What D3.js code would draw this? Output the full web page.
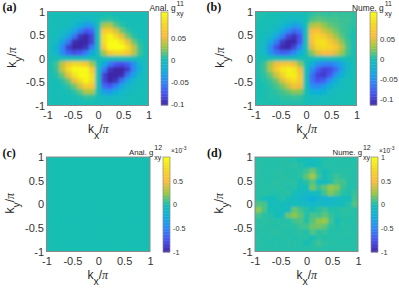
<!DOCTYPE html>
<html>
<head>
<meta charset="utf-8">
<script src="https://cdn.jsdelivr.net/npm/d3@7"></script>
<style>
  html, body { margin: 0; padding: 0; background: #fff; }
  svg { display: block; }
  text { font-family: "Liberation Sans", Arial, sans-serif; fill: #262626; }
</style>
</head>
<body>
<svg id="chart" width="399" height="288"></svg>
<script>
const kTicks = [-1, -0.5, 0, 0.5, 1];
const kTickLabels = ["-1", "-0.5", "0", "0.5", "1"];
const gridK = d3.range(17);

const ticksA = [0.05, 0, -0.05, -0.1];
const ticksB = [0.05, 0, -0.05, -0.1];
const ticksC = [1, 0.5, 0, -0.5, -1];
const ticksD = [1, 0.5, 0, -0.5, -1];
const tickLabelsA = ["0.05", "0", "-0.05", "-0.1"];
const tickLabelsC = ["", "0.5", "0", "-0.5", "-1"];
const tickLabelsD = ["1", "0.5", "0", "-0.5", "-1"];

// rows run from ky=1 down to ky=-1, columns from kx=-1 to kx=1 (units of 0.01)
const gridA = [
  [0,0,0,0,-.1,-.2,-.3,-.2,0,.1,.2,.1,0,0,0,0,0],
  [0,0,-.1,-.2,-.5,-.8,-1,-.8,0,.6,.8,.4,.1,0,0,0,0],
  [0,-.1,-.2,-.6,-1.2,-2.4,-4,-3.5,0,3.2,3.5,1.6,.6,.1,0,0,0],
  [0,-.2,-.5,-1.2,-3,-5.5,-7.5,-6.5,0,6.5,7,4.5,2,.7,.2,0,0],
  [-.1,-.4,-1.2,-3,-6,-9.5,-11,-8.5,0,8.5,10.5,8.5,5,2,.6,.1,0],
  [-.2,-.8,-3.2,-6,-10,-12,-12,-8.5,0,8.5,12.5,12,9,5,2,.5,.1],
  [-.3,-1.6,-5,-9,-11.5,-12,-9.5,-5.5,0,6.5,11.5,12.5,11.5,8.5,4,.9,.2],
  [-.3,-1.4,-4.5,-7,-8,-7.5,-5.5,-2.5,0,3,6.5,8,8,6.5,3.8,1,.2],
  [0,0,0,0,0,0,0,0,0,0,0,0,0,0,0,0,0],
  [.2,1,3.8,6.5,8,8,6.5,3,0,-2.5,-5.5,-7.5,-8,-7,-4.5,-1.4,-.3],
  [.2,.9,4,8.5,11.5,12.5,11.5,6.5,0,-5.5,-9.5,-12,-11.5,-9,-5,-1.6,-.3],
  [.1,.5,2,5,9,12,12.5,8.5,0,-8.5,-12,-12,-10,-6,-3.2,-.8,-.2],
  [0,.1,.6,2,5,8.5,10.5,8.5,0,-8.5,-11,-9.5,-6,-3,-1.2,-.4,-.1],
  [0,0,.2,.7,2,4.5,7,6.5,0,-6.5,-7.5,-5.5,-3,-1.2,-.5,-.2,0],
  [0,0,0,.1,.6,1.6,3.5,3.2,0,-3.5,-4,-2.4,-1.2,-.6,-.2,-.1,0],
  [0,0,0,0,.1,.4,.8,.6,0,-.8,-1,-.8,-.5,-.2,-.1,0,0],
  [0,0,0,0,0,.1,.2,.1,0,-.2,-.3,-.2,-.1,0,0,0,0]
];
const gridB = [
  [.3,.2,0,.1,-.2,-.3,-.5,-.5,0,.6,.9,.8,.7,.9,.7,.8,.6],
  [.2,.1,0,-.2,-.6,-.8,-1,-1,0,1.2,1.7,1.4,1.1,1.1,.9,.9,.6],
  [.1,0,-.2,-.7,-1.4,-2.5,-4,-3.4,0,3.4,4,2.8,1.8,1.4,1,.7,.5],
  [0,-.2,-.7,-1.4,-3.2,-5.6,-7.4,-6.2,0,5.6,6.2,4.5,3.2,2,1.1,.7,.3],
  [-.1,-.5,-1.1,-3.4,-6.2,-9.6,-10.8,-8.5,0,6.8,8.5,7.4,5,3.2,1.6,.6,.2],
  [-.2,-.8,-3.4,-6.2,-10.2,-12.4,-11.8,-8.5,0,6.2,9.6,9.6,7.4,5,2.7,.9,.2],
  [-.3,-1.6,-5,-9,-11.3,-11.8,-9.6,-5.6,0,5,8.5,9,8.5,6.8,4,1.1,.2],
  [-.2,-1.4,-4.3,-6.8,-7.9,-7.4,-5.4,-2.5,0,2.5,5,5.9,5.9,5,2.9,.9,.1],
  [.1,.1,.1,.1,.1,0,0,0,0,-.2,-.3,-.3,-.3,-.2,-.1,0,0],
  [.2,.9,3.4,5.6,6.8,6.8,5.6,2.5,0,-2.2,-4.8,-5.9,-6.2,-5,-3.4,-1.1,-.2],
  [.2,.9,3.6,7.4,10,11,10.2,5.6,0,-4.8,-8.1,-9.6,-9.3,-7.4,-4,-1.1,-.2],
  [.2,.6,1.8,4.5,8.1,10.8,10.8,7.4,0,-6.8,-9.6,-10.2,-8.5,-5,-2.2,-.7,-.1],
  [.1,.3,.9,2,4.8,7.9,9.3,7.4,0,-6.8,-8.8,-7.9,-5,-2.2,-.8,-.2,0],
  [.1,.2,.5,1.1,2.2,4.3,6.2,5.4,0,-5,-5.6,-4.3,-2.2,-1,-.5,-.1,0],
  [.1,.2,.3,.6,1.1,1.8,2.7,2.5,0,-2.5,-2.9,-2,-1,-.5,-.2,-.1,0],
  [.1,.2,.3,.3,.6,.7,.8,.7,0,-.8,-.8,-.7,-.5,-.2,-.1,0,0],
  [.2,.2,.2,.2,.3,.3,.3,.3,0,-.3,-.3,-.2,-.1,0,0,0,.1]
];
const gridC = gridK.map(() => gridK.map(() => 0));
// units of 1e-3
const gridD = [
  [.02,.03,.02,.03,.03,.02,.02,0,-.04,-.06,-.02,.02,.02,.03,.02,.02,.02],
  [.03,.03,.02,.02,.03,.03,.04,.02,-.03,-.04,-.02,.03,.03,.02,.03,.02,.03],
  [.03,.02,.03,.03,.03,.02,.03,.03,.07,.16,.04,-.02,.02,.03,.03,.03,.02],
  [.03,.03,.02,.03,.04,.03,.02,.04,.14,.28,.07,-.04,.03,.07,.04,.03,.03],
  [.03,.02,.03,.04,.03,.03,.04,-.02,.04,.12,-.05,-.08,.02,.1,.08,.03,.02],
  [.02,.03,.03,.03,.04,.02,.03,-.04,-.03,.18,.06,.14,.24,.2,.06,.02,.03],
  [.03,.04,.02,.02,.03,.04,-.02,-.08,-.12,-.07,-.05,.08,.2,.12,.03,.02,.06],
  [.03,-.03,-.05,-.02,.03,-.02,-.07,-.12,-.17,-.22,-.17,-.15,-.14,-.09,-.04,-.05,.08],
  [.11,.1,-.07,-.05,-.04,-.08,-.05,-.07,-.1,-.12,-.07,-.12,-.09,-.07,-.05,.02,.11],
  [.22,.1,-.02,-.02,-.05,-.08,.16,.08,.03,-.02,.04,.07,.02,.02,.04,.04,.02],
  [.08,.04,.03,-.04,-.05,.16,.22,.14,.02,.1,.07,.14,.06,.02,.03,.03,.03],
  [.03,.04,.03,.03,.03,.02,.08,.1,.03,.12,.22,.26,.08,-.02,.03,.02,.03],
  [.03,.03,.03,.02,.04,.03,.03,.07,.08,.16,.18,.13,.04,.02,.03,.03,.02],
  [.02,.03,.03,.04,.03,.02,.03,.04,.02,.11,.04,.06,.02,.03,.03,.03,.03],
  [.03,.02,.03,.02,.03,.03,.02,.03,.03,-.02,.04,.02,.03,.02,.03,.02,.03],
  [.03,.03,.02,.03,.02,.03,.03,.03,-.02,.03,.07,.04,.03,.03,.02,.03,.03],
  [.02,.03,.03,.02,.03,.03,.02,.02,.03,.03,.04,.03,.02,.03,.03,.03,.02]
];

// parula, nudged to the teal of the source at the midpoint
const parulaStops = ["#3e26a8", "#4852f4", "#2d87f7", "#0fafdc", "#17bfb3", "#9cc843", "#fdbd3c", "#f4d923", "#f9fb15"];
const parula = d3.scaleLinear().domain(d3.range(9).map(d => d / 8)).range(parulaStops).clamp(true);

const panels = [
  {id: "a", name: "(a)", grid: gridA, unit: 0.01, domain: [-0.103, 0.108], ticks: ticksA, tickLabels: tickLabelsA,
   box: [47.5, 148.5, 11.5, 105.5], bar: [161, 168, 12, 105], nameX: 2.5, nameY: 11, title: "Anal. g", titleX: 149.5, titleY: 11, fs: 8.4, exp: false, blur: 1.6, xTitleX: 88, yTitleX: 15.5},
  {id: "b", name: "(b)", grid: gridB, unit: 0.01, domain: [-0.115, 0.117], ticks: ticksB, tickLabels: tickLabelsA,
   box: [255.5, 356.5, 11.5, 105.5], bar: [370, 377, 12, 105], nameX: 206.5, nameY: 11, title: "Nume. g", titleX: 352, titleY: 11, fs: 8.4, exp: false, blur: 1.6, xTitleX: 296.5, yTitleX: 223.5},
  {id: "c", name: "(c)", grid: gridC, unit: 1, domain: [-1, 1], ticks: ticksC, tickLabels: tickLabelsC,
   box: [46.5, 150, 157, 251.5], bar: [163, 170, 157, 252], nameX: 2.5, nameY: 157, title: "Anal. g", titleX: 129, titleY: 155, fs: 7.8, exp: true, blur: 0, xTitleX: 87.5, yTitleX: 14},
  {id: "d", name: "(d)", grid: gridD, unit: 1, domain: [-1, 1], ticks: ticksD, tickLabels: tickLabelsD,
   box: [255, 358, 157, 251.5], bar: [371, 378, 157, 252], nameX: 207, nameY: 157, title: "Nume. g", titleX: 332.5, titleY: 155, fs: 7.8, exp: true, blur: 1.3, xTitleX: 296.5, yTitleX: 223}
];
const superscripts = {a: "11", b: "11", c: "12", d: "12"};

const svg = d3.select("#chart");
const defs = svg.append("defs");

function drawPanel(p) {
  const [x0, x1, y0, y1] = p.box;
  const xBand = d3.scaleBand().domain(gridK).range([x0, x1]);
  const yBand = d3.scaleBand().domain(gridK).range([y0, y1]);
  const xScale = d3.scaleLinear().domain([-1, 1]).range([x0, x1]);
  const yScale = d3.scaleLinear().domain([-1, 1]).range([y1, y0]);
  const fill = d3.scaleLinear().domain(p.domain).range([0, 1]);
  const color = v => parula(fill(v * p.unit));

  defs.append("clipPath").attr("id", "clip-" + p.id)
    .append("rect").attr("x", x0).attr("y", y0).attr("width", x1 - x0).attr("height", y1 - y0);
  defs.append("filter").attr("id", "blur-" + p.id)
    .attr("filterUnits", "userSpaceOnUse").attr("x", x0 - 20).attr("y", y0 - 20)
    .attr("width", x1 - x0 + 40).attr("height", y1 - y0 + 40)
    .append("feGaussianBlur").attr("stdDeviation", p.blur);

  const g = svg.append("g").attr("clip-path", `url(#clip-${p.id})`);
  g.append("rect").attr("x", x0).attr("y", y0).attr("width", x1 - x0).attr("height", y1 - y0).attr("fill", color(0));
  const cells = g.append("g");
  if (p.blur > 0) cells.attr("filter", `url(#blur-${p.id})`);
  cells.selectAll("g").data(p.grid).enter().append("g")
    .each(function (row, r) {
      d3.select(this).selectAll("rect").data(row).enter().append("rect")
        .attr("x", (d, c) => xBand(c))
        .attr("y", yBand(r))
        .attr("width", xBand.bandwidth() + 0.5)
        .attr("height", yBand.bandwidth() + 0.5)
        .attr("fill", d => color(d));
    });

  // axes
  const xAxis = d3.axisBottom(xScale).tickValues(kTicks).tickFormat((d, i) => kTickLabels[i]).tickSize(0).tickPadding(6);
  const yAxis = d3.axisLeft(yScale).tickValues(kTicks).tickFormat((d, i) => kTickLabels[i]).tickSize(0).tickPadding(2.5);
  [svg.append("g").attr("transform", `translate(0,${y1})`).call(xAxis),
   svg.append("g").attr("transform", `translate(${x0},0)`).call(yAxis)].forEach(a => {
    a.select(".domain").remove();
    a.selectAll("text").attr("font-size", 11).attr("font-family", null).style("fill", "#333");
  });
  svg.append("rect").attr("x", x0).attr("y", y0).attr("width", x1 - x0).attr("height", y1 - y0)
    .attr("fill", "none").attr("stroke", "#8a8a8a").attr("stroke-width", 1);

  // colorbar
  const [bx0, bx1, by0, by1] = p.bar;
  const barSteps = d3.range(64);
  const barScale = d3.scaleBand().domain(barSteps).range([by1, by0]);
  svg.append("g").selectAll("rect").data(barSteps).enter().append("rect")
    .attr("x", bx0).attr("width", bx1 - bx0)
    .attr("y", d => barScale(d)).attr("height", barScale.bandwidth() + 0.4)
    .attr("fill", d => parula((d + 0.5) / 64));
  const barY = d3.scaleLinear().domain(p.domain).range([by1, by0]);
  const barAxis = d3.axisRight(barY).tickValues(p.ticks).tickFormat((d, i) => p.tickLabels[i]).tickSize(0).tickPadding(3);
  const ba = svg.append("g").attr("transform", `translate(${bx1},0)`).call(barAxis);
  ba.select(".domain").remove();
  ba.selectAll("text").attr("font-size", p.exp ? 7.2 : 7.8).attr("font-family", null).style("fill", "#333");
  svg.append("rect").attr("x", bx0).attr("y", by0).attr("width", bx1 - bx0).attr("height", by1 - by0)
    .attr("fill", "none").attr("stroke", "#8a8a8a").attr("stroke-width", 0.7);

  // panel letter
  svg.append("text").attr("x", p.nameX).attr("y", p.nameY)
    .attr("font-size", 12).attr("font-weight", "bold")
    .style("font-family", '"Liberation Serif", serif').style("fill", "#111").text(p.name);

  // colorbar title
  const t = svg.append("text").attr("x", p.titleX).attr("y", p.titleY).attr("font-size", p.fs);
  t.append("tspan").text(p.title);
  const w = t.node().getComputedTextLength();
  svg.append("text").attr("x", p.titleX + w + 1).attr("y", p.titleY - 5).attr("font-size", 7).text(superscripts[p.id]);
  svg.append("text").attr("x", p.titleX + w + 1).attr("y", p.titleY + 5).attr("font-size", 7).text("xy");
  if (p.exp) {
    svg.append("text").attr("x", bx1 + 1).attr("y", by0 - 4).attr("font-size", 6.5).text("×10");
    svg.append("text").attr("x", bx1 + 12).attr("y", by0 - 7).attr("font-size", 5).text("-3");
  }

  // axis titles
  const xt = svg.append("text").attr("x", p.xTitleX).attr("y", y1 + 27.5).attr("font-size", 12);
  xt.append("tspan").text("k");
  xt.append("tspan").attr("dy", 6).attr("font-size", 10.5).text("x");
  xt.append("tspan").attr("dy", -6).text("/");
  xt.append("tspan").style("font-family", '"Liberation Serif", serif').style("font-style", "italic").text("π");

  const my = (y0 + y1) / 2 - 1;
  const yt = svg.append("text").attr("transform", `translate(${p.yTitleX},${my}) rotate(-90)`)
    .attr("text-anchor", "middle").attr("font-size", 12);
  yt.append("tspan").text("k");
  yt.append("tspan").attr("dy", 6).attr("font-size", 10.5).text("y");
  yt.append("tspan").attr("dy", -6).text("/");
  yt.append("tspan").style("font-family", '"Liberation Serif", serif').style("font-style", "italic").text("π");
}

panels.forEach(drawPanel);
</script>
</body>
</html>
